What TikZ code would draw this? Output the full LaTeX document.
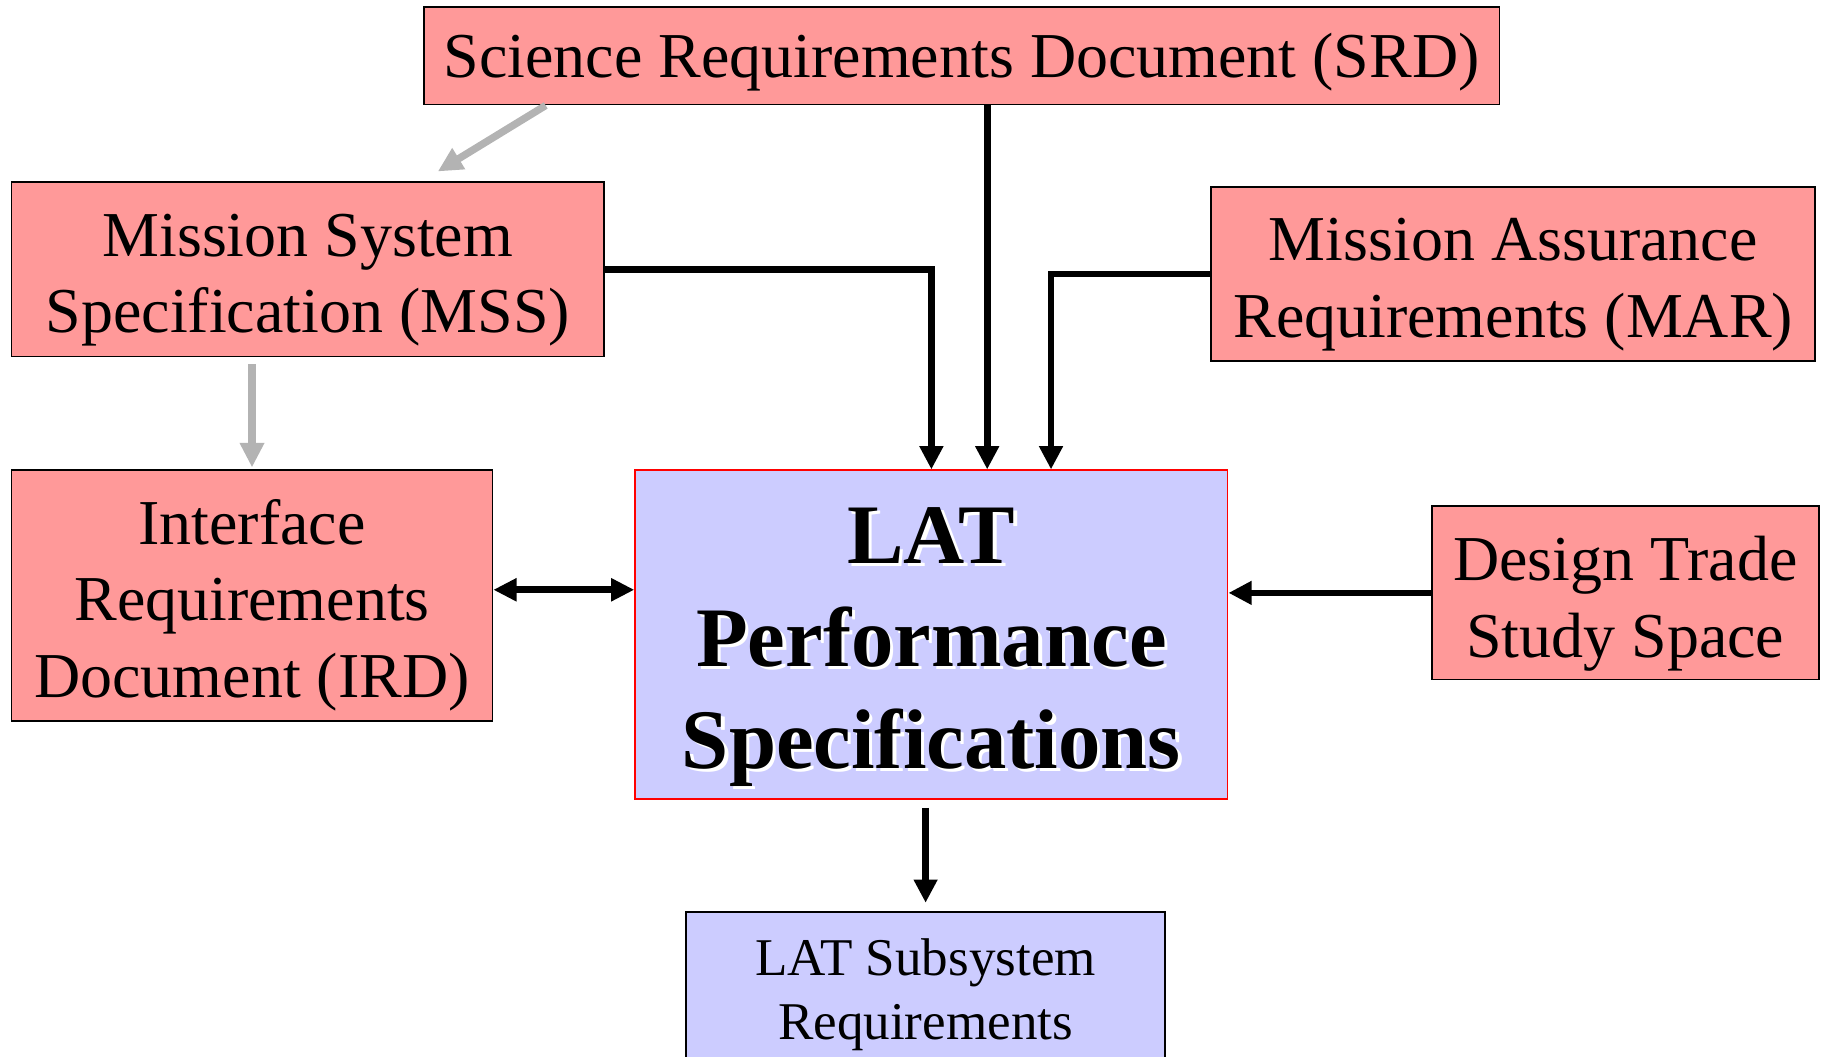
\documentclass[tikz,border=0pt]{standalone}
\usepackage{fontspec}
\setmainfont{Liberation Serif}
\usepackage{tikz}
\usetikzlibrary{arrows.meta}

\definecolor{docpink}{HTML}{FF9999}
\definecolor{latblue}{HTML}{CCCCFF}
\definecolor{arrowgrey}{HTML}{B3B3B3}

\def\nudgeamt{0pt}
\tikzset{nudge/.code={\def\nudgeamt{#1}}}
\newcommand{\dline}[1]{\raisebox{-\nudgeamt}[\height][\depth]{#1}}
\newcommand{\shadowline}[1]{\dline{\rlap{\kern0.9pt\raisebox{-0.9pt}{\color{white}#1}}#1}}

\begin{document}
\begin{tikzpicture}[x=0.011614cm,y=-0.011614cm]
  \tikzstyle{DocStyle}=[draw=black,line width=0.5pt,fill=docpink,align=center,
    inner sep=0pt,font=\fontsize{18.2}{21.8}\selectfont,nudge=3pt]
  \tikzstyle{LatStyle}=[draw=red,line width=0.5pt,fill=latblue,align=center,inner sep=0pt]
  \tikzstyle{post}=[-{Triangle[length=6.6pt,width=6.4pt]},line width=1.9pt]
  \tikzstyle{dpost}=[{Triangle[length=6.6pt,width=6.2pt]}-{Triangle[length=6.6pt,width=6.2pt]},line width=1.9pt]
  \tikzstyle{greypost}=[-{Triangle[length=7pt,width=6.6pt]},draw=arrowgrey,fill=arrowgrey,line width=2.1pt]
  \useasboundingbox (0,0) rectangle (1568,910);
  \node[DocStyle,nudge=1.7pt,minimum width=10.755cm,minimum height=0.976cm] (srd) at (828,48)
    {\dline{Science Requirements Document (SRD)}};
  \node[DocStyle,minimum width=5.923cm,minimum height=1.742cm] (mss) at (265,232)
    {\dline{Mission System}\\\dline{Specification (MSS)}};
  \node[DocStyle,minimum width=6.039cm,minimum height=1.742cm] (mar) at (1303,236)
    {\dline{Mission Assurance}\\\dline{Requirements (MAR)}};
  \node[DocStyle,nudge=2.6pt,minimum width=4.808cm,minimum height=2.509cm] (ird) at (217,513)
    {\dline{Interface}\\\dline{Requirements}\\\dline{Document (IRD)}};
  \node[DocStyle,minimum width=3.867cm,minimum height=1.730cm] (design) at (1399.5,510.5)
    {\dline{Design Trade}\\\dline{Study Space}};
  \node[LatStyle,nudge=4pt,minimum width=5.923cm,minimum height=3.287cm,
    font=\bfseries\fontsize{24.1}{29.1}\selectfont] (lat) at (802,546.5)
    {\shadowline{LAT}\\\shadowline{Performance}\\\shadowline{Specifications}};
  \node[LatStyle,nudge=0.5pt,draw=black,minimum width=4.785cm,minimum height=1.626cm,
    font=\fontsize{15.1}{18.2}\selectfont] (sub) at (797,855)
    {\dline{LAT Subsystem}\\\dline{Requirements}};
  % grey flow
  \draw[greypost] ([xshift=-4.158cm]srd.south) -- ([xshift=1.3cm,yshift=0.1cm]mss.north);
  \draw[greypost,shorten <=0.07cm,shorten >=0.02cm] (mss.south -| ird.north) -- (ird.north);
  % into the performance spec
  \draw[post] (mss.east) -| (lat.north);
  \draw[post] ([xshift=0.256cm]srd.south) -- ([xshift=0.256cm]srd.south |- lat.north);
  \draw[post] (mar.west) -| ([xshift=1.196cm]lat.north);
  \draw[dpost] ([yshift=0.06cm]ird.east) -- ([yshift=0.06cm]ird.east -| lat.west);
  \draw[post] (design.west) -- (design.west -| lat.east);
  \draw[post,shorten <=0.08cm,shorten >=0.08cm] (lat.south -| sub.north) -- (sub.north);
\end{tikzpicture}
\end{document}
